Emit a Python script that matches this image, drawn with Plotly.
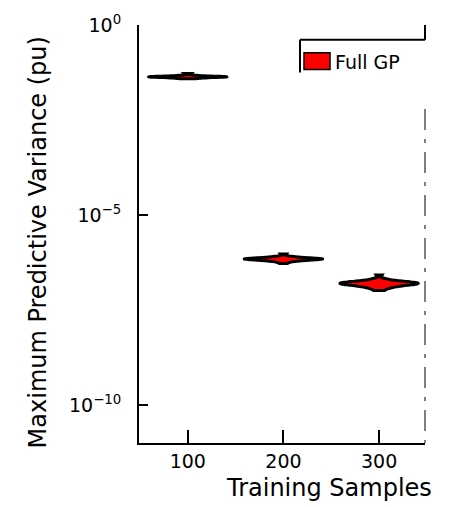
import plotly.graph_objects as go

# Training-set sizes and the maximum predictive variance observed over repeated runs
sample_sizes = [100, 200, 300]
var_100 = [0.03859, 0.03928, 0.04020, 0.04085, 0.04132, 0.04171, 0.04202, 0.04229, 0.04254,
           0.04278, 0.04297, 0.04313, 0.04330, 0.04347, 0.04363, 0.04383, 0.04408, 0.04434,
           0.04462, 0.04496, 0.04537, 0.04589, 0.04664, 0.04773, 0.05327]
var_200 = [5.310e-7, 5.903e-7, 6.139e-7, 6.325e-7, 6.443e-7, 6.548e-7, 6.639e-7, 6.716e-7,
           6.794e-7, 6.857e-7, 6.904e-7, 6.952e-7, 7.000e-7, 7.048e-7, 7.097e-7, 7.146e-7,
           7.213e-7, 7.296e-7, 7.381e-7, 7.483e-7, 7.605e-7, 7.746e-7, 7.981e-7, 8.301e-7,
           9.443e-7]
var_300 = [1.033e-7, 1.194e-7, 1.280e-7, 1.343e-7, 1.390e-7, 1.429e-7, 1.463e-7, 1.490e-7,
           1.517e-7, 1.542e-7, 1.564e-7, 1.582e-7, 1.600e-7, 1.619e-7, 1.637e-7, 1.660e-7,
           1.687e-7, 1.718e-7, 1.750e-7, 1.791e-7, 1.841e-7, 1.906e-7, 2.000e-7, 2.144e-7,
           2.655e-7]

y_tick_vals = [1e0, 1e-5, 1e-10]
y_tick_text = ["10<sup>0</sup>", "10<sup>−5</sup>", "10<sup>−10</sup>"]
x_tick_vals = [100, 200, 300]

series_name = "Full GP"
x_title = "Training Samples"
y_title = "Maximum Predictive Variance (pu)"

FONT = "DejaVu Sans"

groups = [var_100, var_200, var_300]

fig = go.Figure()
# one violin per sample size so each is scaled to its own density peak
for n, vals in zip(sample_sizes, groups):
    fig.add_trace(go.Violin(
        x=[n] * len(vals), y=vals, name=series_name, scalegroup=str(n),
        width=82, spanmode="hard", points=False,
        fillcolor="#ff0000", line=dict(color="black", width=3),
        box=dict(visible=False), meanline=dict(visible=False),
        opacity=1, showlegend=False,
    ))

# plot area in pixels: x 139..425, y 20..443 of a 459x507 canvas
W, H = 459, 507
L, R, T, B = 139, 425, 20, 443


def px(x):
    return (x - L) / (R - L)


def py(y):
    return (B - y) / (B - T)


shapes = [
    # legend frame pieces
    dict(type="line", xref="paper", yref="paper", x0=px(300), x1=px(425), y0=py(35), y1=py(35),
         line=dict(color="black", width=2)),
    dict(type="line", xref="paper", yref="paper", x0=px(300), x1=px(300), y0=py(35), y1=py(68),
         line=dict(color="black", width=2)),
    dict(type="line", xref="paper", yref="paper", x0=px(425), x1=px(425), y0=py(20), y1=py(35),
         line=dict(color="black", width=2)),
    # legend swatch
    dict(type="rect", xref="paper", yref="paper", x0=px(304), x1=px(330), y0=py(48), y1=py(65),
         fillcolor="#ff0000", line=dict(color="black", width=1.5)),
    # right frame, dash-dot
    dict(type="line", xref="paper", yref="paper", x0=1, x1=1, y0=py(105), y1=0,
         line=dict(color="#555555", width=1.5, dash="21px,9px,4px,9px")),
]

annotations = [
    dict(text=series_name, xref="paper", yref="paper", x=px(333), y=py(57),
         xanchor="left", yanchor="middle", showarrow=False,
         font=dict(family=FONT, size=19, color="black")),
    dict(text=x_title, xref="paper", yref="paper", x=px(434), y=py(489),
         xanchor="right", yanchor="middle", showarrow=False,
         font=dict(family=FONT, size=24, color="black")),
    dict(text=y_title, xref="paper", yref="paper", x=px(38), y=py(240),
         xanchor="center", yanchor="middle", showarrow=False, textangle=-90,
         font=dict(family=FONT, size=24, color="black")),
]

fig.update_layout(
    width=W, height=H,
    margin=dict(l=L, r=W - R, t=T, b=H - B, pad=0),
    paper_bgcolor="white", plot_bgcolor="white",
    font=dict(family=FONT, size=19, color="black"),
    shapes=shapes, annotations=annotations,
    showlegend=False, violinmode="overlay",
)
fig.update_xaxes(
    range=[49, 348], tickvals=x_tick_vals, ticks="inside", ticklen=13, tickwidth=2,
    tickcolor="black", showline=True, linecolor="black", linewidth=2,
    showgrid=False, zeroline=False, tickfont=dict(family=FONT, size=19, color="black"),
)
fig.update_yaxes(
    type="log", range=[-11, 0], tickvals=y_tick_vals, ticktext=y_tick_text,
    ticks="inside", ticklen=9, tickwidth=2, tickcolor="black",
    showline=True, linecolor="black", linewidth=2, showgrid=False, zeroline=False,
    ticklabelstandoff=12, tickfont=dict(family=FONT, size=19, color="black"),
)

fig.write_html("out.html")
